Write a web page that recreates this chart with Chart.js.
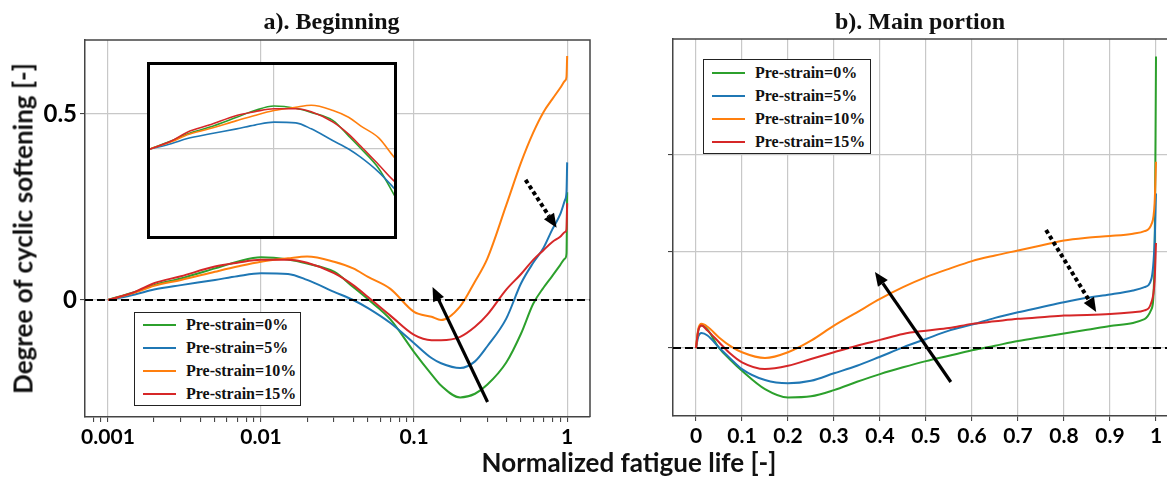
<!DOCTYPE html>
<html>
<head>
<meta charset="utf-8">
<script src="https://cdn.jsdelivr.net/npm/chart.js@4.4.1/dist/chart.umd.min.js"></script>
<style>
  html, body { margin: 0; padding: 0; background: #fff; overflow: hidden; }
  #wrap { position: relative; width: 1167px; height: 477px; overflow: hidden; }
  .panel { position: absolute; top: 0; }
  #inset { position: absolute; left: 147px; top: 62px; width: 244px; height: 171px; border: 3px solid #000; background: #fff; }
  .legend { position: absolute; box-sizing: border-box; border: 1.5px solid #222; background: #fff;
            font: bold 16px "Liberation Serif", serif; color: #111; padding-left: 8px; }
  .legend .row { height: 23px; display: flex; align-items: center; white-space: nowrap; }
  .legend .swatch { display: inline-block; width: 33px; height: 2px; margin-right: 10px; }
  .axis-title { position: absolute; font: bold 26px Lato, sans-serif; color: #111; text-align: center; line-height: 31px; white-space: nowrap; }
</style>
</head>
<body>
<div id="wrap">
  <canvas id="leftChart" class="panel" width="600" height="477" style="left:0"></canvas>
  <canvas id="rightChart" class="panel" width="600" height="477" style="left:600px"></canvas>
  <div id="inset"><canvas id="insetChart" width="244" height="171"></canvas></div>
  <div id="legendLeft" class="legend" style="left:134px; top:312px; width:167px;"></div>
  <div id="legendRight" class="legend" style="left:703px; top:59px; width:168px; padding-top:1px;"></div>
  <div class="axis-title" style="left:0; width:1258px; top:447px;">Normalized fatigue life [-]</div>
  <div class="axis-title" style="left:-177px; width:400px; top:213px; transform:rotate(-90deg);">Degree of cyclic softening [-]</div>
</div>

<script>
// series names and colours
const seriesLabels = ["Pre-strain=0%", "Pre-strain=5%", "Pre-strain=10%", "Pre-strain=15%"];
const seriesColors = ["#2ca02c", "#1f77b4", "#ff7f0e", "#d62728"];

// a) beginning, log x axis
const lifeLog = [0.001, 0.0015, 0.002, 0.003, 0.005, 0.007, 0.01, 0.015, 0.02, 0.03, 0.04, 0.05, 0.07,
  0.1, 0.13, 0.15, 0.2, 0.25, 0.3, 0.4, 0.5, 0.6, 0.7, 0.8, 0.9, 0.97, 0.99, 1];
const soft0Log = [0, 0.022, 0.040, 0.058, 0.085, 0.103, 0.115, 0.109, 0.098, 0.076, 0.035, 0.002, -0.052,
  -0.140, -0.200, -0.230, -0.262, -0.252, -0.228, -0.168, -0.090, -0.010, 0.033, 0.065, 0.094, 0.112, 0.125, 0.290];
const soft5Log = [0, 0.015, 0.028, 0.040, 0.054, 0.064, 0.072, 0.070, 0.054, 0.022, 0.000, -0.022, -0.062,
  -0.116, -0.156, -0.170, -0.183, -0.165, -0.125, -0.050, 0.045, 0.100, 0.140, 0.190, 0.230, 0.270, 0.290, 0.370];
const soft10Log = [0, 0.020, 0.038, 0.054, 0.076, 0.090, 0.103, 0.112, 0.117, 0.103, 0.085, 0.062, 0.030,
  -0.032, -0.045, -0.054, -0.017, 0.050, 0.110, 0.255, 0.370, 0.450, 0.505, 0.540, 0.570, 0.590, 0.600, 0.656];
const soft15Log = [0, 0.022, 0.045, 0.064, 0.090, 0.100, 0.108, 0.108, 0.100, 0.072, 0.040, 0.008, -0.042,
  -0.094, -0.108, -0.108, -0.099, -0.072, -0.040, 0.028, 0.070, 0.108, 0.134, 0.156, 0.170, 0.183, 0.190, 0.260];

// b) main portion, linear x axis
const lifeLin = [0, 0.005, 0.012, 0.025, 0.05, 0.075, 0.1, 0.15, 0.2, 0.25, 0.3, 0.35, 0.4, 0.45, 0.5,
  0.55, 0.6, 0.65, 0.7, 0.75, 0.8, 0.85, 0.9, 0.95, 0.975, 0.99, 0.997, 1];
const soft0Lin = [0, 0.090, 0.116, 0.095, 0.000, -0.062, -0.118, -0.213, -0.256, -0.250, -0.218, -0.175, -0.135,
  -0.100, -0.068, -0.040, -0.012, 0.012, 0.036, 0.056, 0.075, 0.094, 0.114, 0.130, 0.150, 0.200, 0.450, 1.510];
const soft5Lin = [0, 0.060, 0.078, 0.065, 0.003, -0.055, -0.109, -0.166, -0.183, -0.170, -0.131, -0.092, -0.045,
  0.003, 0.047, 0.090, 0.121, 0.156, 0.185, 0.211, 0.237, 0.260, 0.277, 0.298, 0.315, 0.358, 0.550, 0.800];
const soft10Lin = [0, 0.100, 0.125, 0.110, 0.055, 0.010, -0.022, -0.052, -0.022, 0.038, 0.116, 0.185, 0.254,
  0.315, 0.367, 0.410, 0.450, 0.479, 0.505, 0.531, 0.557, 0.571, 0.580, 0.592, 0.605, 0.640, 0.750, 0.964];
const soft15Lin = [0, 0.090, 0.116, 0.090, 0.030, -0.030, -0.074, -0.109, -0.092, -0.057, -0.022, 0.012, 0.042,
  0.073, 0.090, 0.104, 0.125, 0.138, 0.151, 0.159, 0.168, 0.171, 0.176, 0.185, 0.195, 0.237, 0.350, 0.544];

// ticks
const logMajorTicks = [0.001, 0.01, 0.1, 1];
const logTickLabels = ["0.001", "0.01", "0.1", "1"];
const leftYTicks = [0, 0.5];
const leftYTickLabels = ["0", "0.5"];
const linTicks = [0, 0.1, 0.2, 0.3, 0.4, 0.5, 0.6, 0.7, 0.8, 0.9, 1];
const linTickLabels = ["0", "0.1", "0.2", "0.3", "0.4", "0.5", "0.6", "0.7", "0.8", "0.9", "1"];
const rightYTicks = [0, 0.5, 1];

// arrows (data coordinates)
const leftArrows = [
  { from: [0.302, -0.274], to: [0.132, 0.035], dotted: false },
  { from: [0.535, 0.323], to: [0.853, 0.194], dotted: true }
];
const rightArrows = [
  { from: [0.554, -0.176], to: [0.389, 0.394], dotted: false },
  { from: [0.761, 0.611], to: [0.870, 0.187], dotted: true }
];

const GRID = "#c8c8c8";
const FRAME = "#444";
Chart.defaults.font.family = "Lato";

const logSeries = [soft0Log, soft5Log, soft10Log, soft15Log];
const linSeries = [soft0Lin, soft5Lin, soft10Lin, soft15Lin];

function makeDatasets(xs, series, width) {
  return series.map((ys, i) => ({
    label: seriesLabels[i],
    data: xs.map((x, j) => ({ x, y: ys[j] })),
    borderColor: seriesColors[i],
    borderWidth: width,
    pointRadius: 0,
    cubicInterpolationMode: "monotone",
    order: series.length - i
  }));
}

function logTickList(min, max) {
  const list = [];
  [0.0001, 0.001, 0.01, 0.1, 1].forEach((d) => {
    for (let m = 1; m <= 9; m++) {
      const v = m === 1 ? d : m * d;
      if (v >= min && v <= max) list.push(v);
    }
  });
  return list;
}

function drawArrow(ctx, x1, y1, x2, y2, dotted) {
  const ang = Math.atan2(y2 - y1, x2 - x1);
  const headLen = 14;
  const headW = 6;
  const bx = x2 - headLen * Math.cos(ang);
  const by = y2 - headLen * Math.sin(ang);
  ctx.save();
  ctx.strokeStyle = "#000";
  ctx.fillStyle = "#000";
  ctx.lineWidth = dotted ? 4 : 3.2;
  ctx.setLineDash(dotted ? [4, 3] : []);
  ctx.beginPath();
  ctx.moveTo(x1, y1);
  ctx.lineTo(bx, by);
  ctx.stroke();
  ctx.setLineDash([]);
  ctx.beginPath();
  ctx.moveTo(x2, y2);
  ctx.lineTo(bx + headW * Math.sin(ang), by - headW * Math.cos(ang));
  ctx.lineTo(bx - headW * Math.sin(ang), by + headW * Math.cos(ang));
  ctx.closePath();
  ctx.fill();
  ctx.restore();
}

function panelDecor(title, arrows) {
  return {
    id: "panelDecor",
    afterDatasetsDraw(chart) {
      const { ctx, chartArea: a, scales } = chart;
      const y0 = scales.y.getPixelForValue(0);
      ctx.save();
      ctx.beginPath();
      ctx.rect(a.left, a.top, a.right - a.left, a.bottom - a.top);
      ctx.clip();
      ctx.strokeStyle = "#000";
      ctx.lineWidth = 2;
      ctx.setLineDash([8, 4]);
      ctx.beginPath();
      ctx.moveTo(a.left, y0);
      ctx.lineTo(a.right, y0);
      ctx.stroke();
      ctx.restore();
      arrows.forEach((ar) => {
        drawArrow(ctx,
          scales.x.getPixelForValue(ar.from[0]), scales.y.getPixelForValue(ar.from[1]),
          scales.x.getPixelForValue(ar.to[0]), scales.y.getPixelForValue(ar.to[1]),
          ar.dotted);
      });
    },
    afterDraw(chart) {
      const { ctx, chartArea: a } = chart;
      ctx.save();
      ctx.strokeStyle = FRAME;
      ctx.lineWidth = 1.5;
      ctx.beginPath();
      ctx.moveTo(a.left, a.top);
      ctx.lineTo(a.right, a.top);
      ctx.lineTo(a.right, a.bottom);
      ctx.stroke();
      ctx.fillStyle = "#111";
      ctx.font = 'bold 24px "Liberation Serif"';
      ctx.textAlign = "center";
      ctx.textBaseline = "alphabetic";
      ctx.fillText(title, (a.left + a.right) / 2 - 6, 29);
      ctx.restore();
    }
  };
}

function axisStyle(extra) {
  return Object.assign({
    border: { display: true, color: FRAME, width: 1.5 },
    grid: { color: GRID, lineWidth: 1.2, tickColor: "#333", tickLength: 5, tickWidth: 1 },
    ticks: { color: "#000", padding: 3, autoSkip: false, maxRotation: 0, font: { size: 21, weight: "bold" } }
  }, extra);
}

// left panel: a). Beginning
const leftMin = 0.000708;
const leftMax = 1.41;
new Chart(document.getElementById("leftChart"), {
  type: "line",
  data: { datasets: makeDatasets(lifeLog, logSeries, 2) },
  options: {
    responsive: false,
    animation: false,
    layout: { padding: { top: 40, right: 10, left: 0, bottom: 0 } },
    plugins: { legend: { display: false }, tooltip: { enabled: false } },
    scales: {
      x: axisStyle({
        type: "logarithmic",
        min: leftMin,
        max: leftMax,
        afterBuildTicks: (axis) => { axis.ticks = logTickList(leftMin, leftMax).map((v) => ({ value: v })); },
        afterFit: (axis) => { axis.height = 60; },
        grid: {
          color: (c) => (c.tick && logMajorTicks.includes(c.tick.value) ? GRID : "rgba(0,0,0,0)"),
          lineWidth: 1.2, tickColor: "#333", tickLength: 5, tickWidth: 1
        },
        ticks: {
          color: "#000", padding: 3, autoSkip: false, maxRotation: 0, font: { size: 21, weight: "bold" },
          callback: (value) => {
            const k = logMajorTicks.indexOf(value);
            return k >= 0 ? logTickLabels[k] : "";
          }
        }
      }),
      y: axisStyle({
        type: "linear",
        min: -0.3145,
        max: 0.699,
        afterBuildTicks: (axis) => { axis.ticks = leftYTicks.map((v) => ({ value: v })); },
        afterFit: (axis) => { axis.width = 85; },
        ticks: {
          color: "#000", padding: 3, font: { size: 24, weight: "bold" },
          callback: (value) => leftYTickLabels[leftYTicks.indexOf(value)]
        }
      })
    }
  },
  plugins: [panelDecor("a). Beginning", leftArrows)]
});

// right panel: b). Main portion
new Chart(document.getElementById("rightChart"), {
  type: "line",
  data: { datasets: makeDatasets(lifeLin, linSeries, 2) },
  options: {
    responsive: false,
    animation: false,
    layout: { padding: { top: 39, right: 21, left: 0, bottom: 0 } },
    plugins: { legend: { display: false }, tooltip: { enabled: false } },
    scales: {
      x: axisStyle({
        type: "linear",
        min: -0.05,
        max: 1.05,
        afterBuildTicks: (axis) => { axis.ticks = linTicks.map((v) => ({ value: v })); },
        afterFit: (axis) => { axis.height = 61; },
        ticks: {
          color: "#000", padding: 3, autoSkip: false, maxRotation: 0, font: { size: 21, weight: "bold" },
          callback: (value) => linTickLabels[linTicks.indexOf(value)]
        }
      }),
      y: axisStyle({
        type: "linear",
        min: -0.352,
        max: 1.60,
        afterBuildTicks: (axis) => { axis.ticks = rightYTicks.map((v) => ({ value: v })); },
        afterFit: (axis) => { axis.width = 73; },
        ticks: { display: false }
      })
    }
  },
  plugins: [panelDecor("b). Main portion", rightArrows)]
});

// inset of panel a)
new Chart(document.getElementById("insetChart"), {
  type: "line",
  data: { datasets: makeDatasets(lifeLog, logSeries, 1.6) },
  options: {
    responsive: false,
    animation: false,
    layout: { padding: 0 },
    plugins: { legend: { display: false }, tooltip: { enabled: false } },
    scales: {
      x: {
        type: "logarithmic",
        min: 0.001,
        max: 0.093,
        afterBuildTicks: (axis) => { axis.ticks = [{ value: logMajorTicks[1] }]; },
        afterFit: (axis) => { axis.height = 0; },
        border: { display: false },
        grid: { color: GRID, lineWidth: 1.2, drawTicks: false },
        ticks: { display: false }
      },
      y: {
        type: "linear",
        min: -0.233,
        max: 0.225,
        afterBuildTicks: (axis) => { axis.ticks = [{ value: leftYTicks[0] }]; },
        afterFit: (axis) => { axis.width = 0; },
        border: { display: false },
        grid: { color: GRID, lineWidth: 1.2, drawTicks: false },
        ticks: { display: false }
      }
    }
  }
});

function buildLegend(id) {
  const box = document.getElementById(id);
  seriesLabels.forEach((label, i) => {
    const row = document.createElement("div");
    row.className = "row";
    const swatch = document.createElement("span");
    swatch.className = "swatch";
    swatch.style.background = seriesColors[i];
    row.appendChild(swatch);
    row.appendChild(document.createTextNode(label));
    box.appendChild(row);
  });
}

buildLegend("legendLeft");
buildLegend("legendRight");
</script>
</body>
</html>
